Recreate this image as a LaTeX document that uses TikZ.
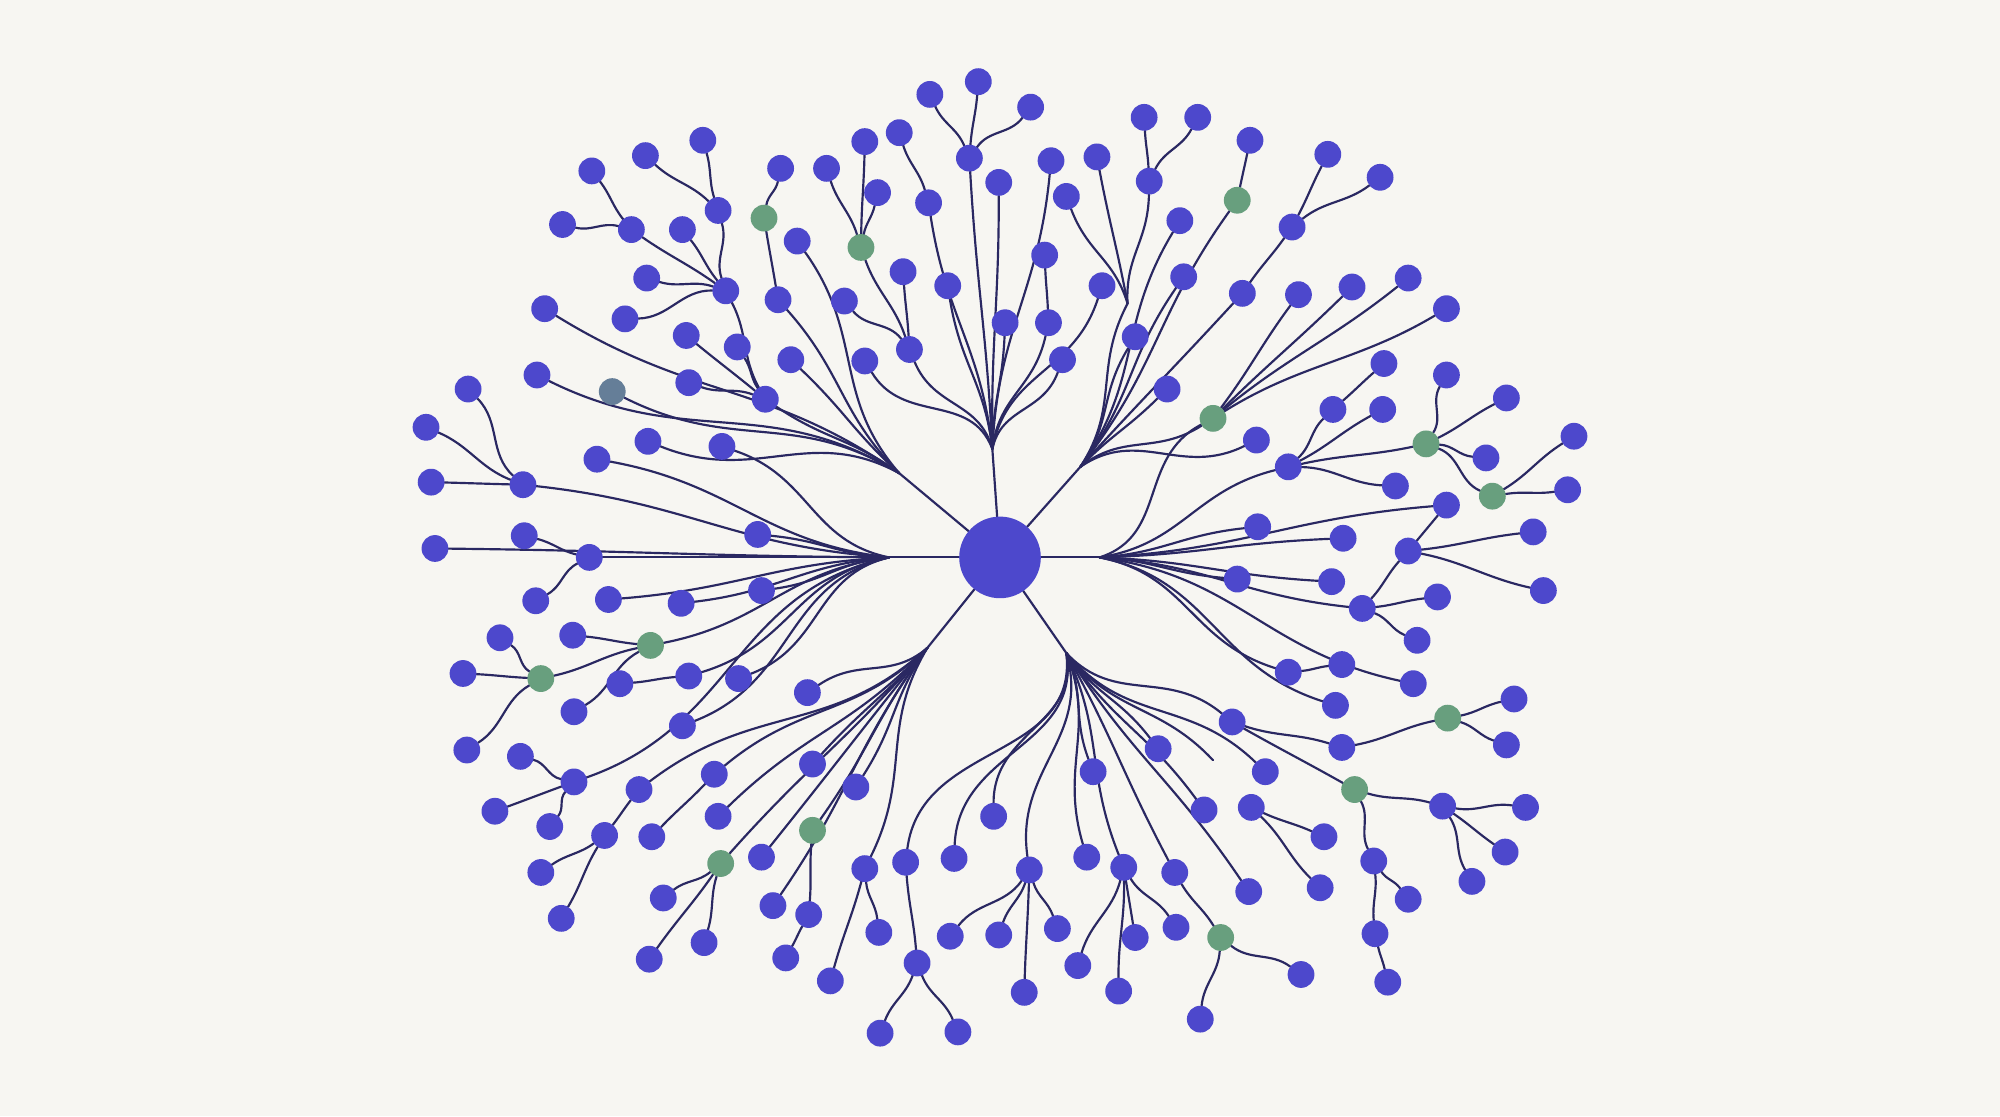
\documentclass[tikz,border=0pt]{standalone}
\usetikzlibrary{calc}
\definecolor{bgc}{HTML}{F7F6F2}
\definecolor{nblue}{HTML}{4D48CC}
\definecolor{ngreen}{HTML}{689F7E}
\definecolor{ngray}{HTML}{657E98}
\definecolor{edgec}{HTML}{2A2862}
\pgfdeclarelayer{back}
\pgfdeclarelayer{links}
\pgfsetlayers{back,links,main}
\tikzset{
  edge/.style={draw=edgec, line width=1.7pt, line cap=round},
  bn/.style={circle, fill=nblue, minimum size=21pt, inner sep=0pt, outer sep=0pt},
  gn/.style={bn, fill=ngreen},
  yn/.style={bn, fill=ngray},
  centre/.style={circle, fill=nblue, minimum size=64pt, inner sep=0pt, outer sep=0pt},
}
\makeatletter
\newcommand\FE[6]{%
  \pgfpointdiff{\pgfpointanchor{#1}{center}}{\pgfpointanchor{#2}{center}}%
  \edef\fex{\the\pgf@x}\edef\fey{\the\pgf@y}%
  \pgfmathsetmacro\fela{atan2(\fey,\fex)}%
  \pgfmathsetmacro\fedd{mod(\fela-(#3)+900,360)-180}%
  \pgfmathsetmacro\feo{(#3)+(#4)*(\fedd)}%
  \pgfmathsetmacro\fei{(#3)+(#5)*(\fedd)+180}%
  \draw[edge] (#1) to[out=\feo,in=\fei,looseness=#6] (#2);}
\makeatother
\newcommand\HE[3]{\FE{#1}{#2}{#3}{0.35}{0.55}{1.1}}
\newcommand\SE[3]{\FE{#1}{#2}{#3}{0.7}{0.75}{1}}
\begin{document}
\begin{tikzpicture}[x=1pt,y=-1pt]
\begin{pgfonlayer}{back}
\fill[bgc] (0,0) rectangle (1568,875);
\end{pgfonlayer}
\useasboundingbox (0,0) rectangle (1568,875);

% centre and hubs
\node[centre] (c) at (784,437) {};
\coordinate (hU) at (778,352);
\coordinate (hUL) at (705,371);
\coordinate (hUR) at (847,366);
\coordinate (hL) at (697,437);
\coordinate (hR) at (862,437);
\coordinate (hDL) at (727,508);
\coordinate (hDR) at (836,512);
\coordinate (J1) at (884,238);
\coordinate (stub) at (951,596);

% ---- up branch
\node[bn] (u1) at (760,124) {};
\node[bn] (u1a) at (729,74) {};
\node[bn] (u1b) at (767,64) {};
\node[bn] (u1c) at (808,84) {};
\node[bn] (u2) at (728,159) {};
\node[bn] (u2a) at (705,104) {};
\node[bn] (u3) at (783,143) {};
\node[bn] (u4) at (824,126) {};
\node[bn] (u5) at (743,224) {};
\node[bn] (u6) at (788,253) {};
\node[bn] (u7) at (822,253) {};
\node[bn] (u7a) at (819,200) {};
\node[bn] (u8) at (833,282) {};
\node[bn] (u9) at (864,224) {};
\node[bn] (u10) at (678,283) {};
\node[bn] (u11) at (713,274) {};
\node[gn] (g1) at (675,194) {};
\node[bn] (g1a) at (648,132) {};
\node[bn] (g1b) at (678,111) {};
\node[bn] (g1c) at (688,151) {};
\node[bn] (u11a) at (708,213) {};
\node[bn] (u11b) at (662,236) {};

% ---- upper-left branch
\node[bn] (a1) at (600,313) {};
\node[bn] (a1a) at (569,228) {};
\node[bn] (a1a1) at (563,165) {};
\node[bn] (a1a1a) at (551,110) {};
\node[bn] (a1a1b) at (506,122) {};
\node[bn] (a1a2) at (495,180) {};
\node[bn] (a1a2a) at (464,134) {};
\node[bn] (a1a2b) at (441,176) {};
\node[bn] (a1a3) at (535,180) {};
\node[bn] (a1a4) at (507,218) {};
\node[bn] (a1a5) at (490,250) {};
\node[bn] (a1b) at (538,263) {};
\node[bn] (a1c) at (578,272) {};
\node[bn] (a1d) at (540,300) {};
\node[bn] (a2) at (620,282) {};
\node[bn] (a3) at (610,235) {};
\node[gn] (g2) at (599,171) {};
\node[bn] (g2a) at (612,132) {};
\node[bn] (a4) at (625,189) {};
\node[bn] (a5) at (427,242) {};
\node[bn] (a6) at (421,294) {};
\node[yn] (a7) at (480,307) {};
\node[bn] (a8) at (508,346) {};

% ---- left branch
\node[bn] (l1) at (566,350) {};
\node[bn] (l2) at (468,360) {};
\node[bn] (l3) at (410,380) {};
\node[bn] (l3a) at (367,305) {};
\node[bn] (l3b) at (334,335) {};
\node[bn] (l3c) at (338,378) {};
\node[bn] (l4) at (341,430) {};
\node[bn] (l5) at (462,437) {};
\node[bn] (l5a) at (411,420) {};
\node[bn] (l5b) at (420,471) {};
\node[bn] (l6) at (477,470) {};
\node[bn] (l7) at (594,419) {};
\node[bn] (l8) at (597,463) {};
\node[bn] (l9) at (534,473) {};
\node[gn] (g3) at (510,506) {};
\node[bn] (g3a) at (449,498) {};
\node[gn] (g4) at (424,532) {};
\node[bn] (g4a) at (392,500) {};
\node[bn] (g4b) at (363,528) {};
\node[bn] (g4c) at (366,588) {};
\node[bn] (g3b) at (450,558) {};
\node[bn] (l10) at (540,530) {};
\node[bn] (l10a) at (486,536) {};
\node[bn] (l11) at (579,532) {};
\node[bn] (l12) at (535,569) {};
\node[bn] (l13) at (450,613) {};
\node[bn] (l13a) at (408,593) {};
\node[bn] (l13b) at (388,636) {};
\node[bn] (l13c) at (431,648) {};

% ---- lower-left branch
\node[bn] (d1) at (633,543) {};
\node[bn] (d2) at (501,619) {};
\node[bn] (d2a) at (474,655) {};
\node[bn] (d2a1) at (424,684) {};
\node[bn] (d2a2) at (440,720) {};
\node[bn] (d3) at (560,607) {};
\node[bn] (d3a) at (511,656) {};
\node[bn] (d4) at (563,640) {};
\node[bn] (d5) at (637,599) {};
\node[bn] (d6) at (671,617) {};
\node[gn] (g5) at (637,651) {};
\node[bn] (g5a) at (634,717) {};
\node[bn] (g5a1) at (616,751) {};
\node[gn] (g6) at (565,677) {};
\node[bn] (g6a) at (520,704) {};
\node[bn] (g6b) at (509,752) {};
\node[bn] (g6c) at (552,739) {};
\node[bn] (d7) at (597,672) {};
\node[bn] (d8) at (606,710) {};
\node[bn] (d9) at (678,681) {};
\node[bn] (d9a) at (689,731) {};
\node[bn] (d9b) at (651,769) {};

% ---- lower-right branch
\node[bn] (e1) at (710,676) {};
\node[bn] (e1a) at (719,755) {};
\node[bn] (e1a1) at (690,810) {};
\node[bn] (e1a2) at (751,809) {};
\node[bn] (e2) at (748,673) {};
\node[bn] (e3) at (779,640) {};
\node[bn] (e4) at (807,682) {};
\node[bn] (e4a) at (745,734) {};
\node[bn] (e4b) at (783,733) {};
\node[bn] (e4c) at (829,728) {};
\node[bn] (e4d) at (803,778) {};
\node[bn] (e5) at (852,672) {};
\node[bn] (e6) at (881,680) {};
\node[bn] (e6a) at (845,757) {};
\node[bn] (e6b) at (890,735) {};
\node[bn] (e6c) at (877,777) {};
\node[bn] (e6d) at (922,727) {};
\node[bn] (e7) at (857,605) {};
\node[bn] (e8) at (908,587) {};
\node[bn] (e9) at (921,684) {};
\node[gn] (g7) at (957,735) {};
\node[bn] (g7a) at (1020,764) {};
\node[bn] (g7b) at (941,799) {};
\node[bn] (e10) at (944,635) {};
\node[bn] (e11) at (966,566) {};
\node[bn] (e11a) at (1052,586) {};
\node[gn] (g8) at (1135,563) {};
\node[bn] (g8a) at (1187,548) {};
\node[bn] (g8b) at (1181,584) {};
\node[gn] (g9) at (1062,619) {};
\node[bn] (e11b) at (1131,632) {};
\node[bn] (e11b1) at (1196,633) {};
\node[bn] (e11b2) at (1180,668) {};
\node[bn] (e11b3) at (1154,691) {};
\node[bn] (e11c) at (1077,675) {};
\node[bn] (e11c1) at (1104,705) {};
\node[bn] (e11c2) at (1078,732) {};
\node[bn] (e11c2a) at (1088,770) {};
\node[bn] (e12) at (992,605) {};
\node[bn] (e13) at (979,699) {};
\node[bn] (e14) at (981,633) {};
\node[bn] (e14a) at (1038,656) {};
\node[bn] (e14b) at (1035,696) {};

% ---- right branch
\node[bn] (r1) at (970,454) {};
\node[bn] (r2) at (986,413) {};
\node[bn] (r3) at (1010,366) {};
\node[bn] (r3a) at (1045,321) {};
\node[bn] (r3a1) at (1085,285) {};
\node[bn] (r3b) at (1084,321) {};
\node[gn] (g10) at (1118,348) {};
\node[bn] (g10a) at (1134,294) {};
\node[bn] (g10b) at (1181,312) {};
\node[bn] (g10c) at (1165,359) {};
\node[gn] (g11) at (1170,389) {};
\node[bn] (g11a) at (1234,342) {};
\node[bn] (g11b) at (1229,384) {};
\node[bn] (r3c) at (1094,381) {};
\node[bn] (r4) at (1053,422) {};
\node[bn] (r5) at (1134,396) {};
\node[bn] (r5a) at (1104,432) {};
\node[bn] (r5a1) at (1202,417) {};
\node[bn] (r5a2) at (1210,463) {};
\node[bn] (r6) at (1044,456) {};
\node[bn] (r7) at (1068,477) {};
\node[bn] (r7a) at (1127,468) {};
\node[bn] (r7b) at (1111,502) {};
\node[bn] (r8) at (1010,527) {};
\node[bn] (r8a) at (1052,521) {};
\node[bn] (r9) at (1047,553) {};
\node[bn] (r10) at (1108,536) {};

% ---- upper-right branch
\node[bn] (ur1) at (836,154) {};
\node[bn] (ur2) at (860,123) {};
\node[bn] (ur3) at (901,142) {};
\node[bn] (ur3a) at (897,92) {};
\node[bn] (ur3b) at (939,92) {};
\node[bn] (ur4) at (925,173) {};
\node[bn] (ur5) at (928,217) {};
\node[bn] (ur6) at (974,230) {};
\node[bn] (ur6a) at (1013,178) {};
\node[bn] (ur6a1) at (1041,121) {};
\node[bn] (ur6a2) at (1082,139) {};
\node[gn] (g12) at (970,157) {};
\node[bn] (g12a) at (980,110) {};
\node[bn] (ur7) at (890,264) {};
\node[bn] (ur8) at (915,305) {};
\node[gn] (g13) at (951,328) {};
\node[bn] (g13a) at (1018,231) {};
\node[bn] (g13b) at (1060,225) {};
\node[bn] (g13c) at (1104,218) {};
\node[bn] (g13d) at (1134,242) {};
\node[bn] (ur9) at (985,345) {};

\begin{pgfonlayer}{links}
% trunk lines
\foreach \h in {hU,hUL,hUR,hL,hR,hDL,hDR} \draw[edge] (c) -- (\h);

% up
\foreach \n in {u1,u2,u3,u4,u5,u6,u7,u8,u9,u10,u11} {\HE{hU}{\n}{92}}
\foreach \n in {u1a,u1b,u1c} {\SE{u1}{\n}{92}}
\SE{u2}{u2a}{92}
\SE{u7}{u7a}{92}
\foreach \n in {g1,u11a,u11b} {\SE{u11}{\n}{92}}
\foreach \n in {g1a,g1b,g1c} {\SE{g1}{\n}{92}}

% upper-left
\foreach \n in {a1,a2,a3,a4,a5,a6,a7,a8} {\HE{hUL}{\n}{140}}
\foreach \n in {a1a,a1b,a1c,a1d} {\SE{a1}{\n}{140}}
\foreach \n in {a1a1,a1a2,a1a3,a1a4,a1a5} {\SE{a1a}{\n}{140}}
\foreach \n in {a1a1a,a1a1b} {\SE{a1a1}{\n}{120}}
\foreach \n in {a1a2a,a1a2b} {\SE{a1a2}{\n}{140}}
\SE{a3}{g2}{100}
\SE{g2}{g2a}{100}

% left
\foreach \n in {l1,l2,l3,l4,l5,l6,l7,l8,l9,g3,l10,l11,l12,l13} {\HE{hL}{\n}{180}}
\foreach \n in {l3a,l3b,l3c} {\SE{l3}{\n}{180}}
\foreach \n in {l5a,l5b} {\SE{l5}{\n}{180}}
\foreach \n in {g3a,g4,g3b} {\SE{g3}{\n}{180}}
\foreach \n in {g4a,g4b,g4c} {\SE{g4}{\n}{180}}
\SE{l10}{l10a}{180}
\foreach \n in {l13a,l13b,l13c} {\SE{l13}{\n}{200}}

% lower-left
\foreach \n in {d1,d2,d3,d4,d5,d6,g5,g6,d7,d8,d9} {\HE{hDL}{\n}{231}}
\SE{d2}{d2a}{231}
\foreach \n in {d2a1,d2a2} {\SE{d2a}{\n}{231}}
\SE{d3}{d3a}{231}
\SE{g5}{g5a}{260}
\SE{g5a}{g5a1}{240}
\foreach \n in {g6a,g6b,g6c} {\SE{g6}{\n}{240}}
\foreach \n in {d9a,d9b} {\SE{d9}{\n}{260}}

% lower-right
\foreach \n in {e1,e2,e3,e4,e5,e6,e7,e8,e9,e10,e11,e12,e13,stub} {\HE{hDR}{\n}{300}}
\SE{e1}{e1a}{270}
\foreach \n in {e1a1,e1a2} {\SE{e1a}{\n}{270}}
\foreach \n in {e4a,e4b,e4c,e4d} {\SE{e4}{\n}{270}}
\foreach \n in {e6a,e6b,e6c,e6d} {\SE{e6}{\n}{280}}
\SE{e9}{g7}{290}
\foreach \n in {g7a,g7b} {\SE{g7}{\n}{290}}
\foreach \n in {e11a,g9} {\SE{e11}{\n}{330}}
\SE{e11a}{g8}{0}
\foreach \n in {g8a,g8b} {\SE{g8}{\n}{0}}
\foreach \n in {e11b,e11c} {\SE{g9}{\n}{330}}
\foreach \n in {e11b1,e11b2,e11b3} {\SE{e11b}{\n}{330}}
\foreach \n in {e11c1,e11c2} {\SE{e11c}{\n}{290}}
\SE{e11c2}{e11c2a}{280}
\foreach \n in {e14a,e14b} {\SE{e14}{\n}{330}}

% right
\foreach \n in {r1,r2,r3,r4,r5,r6,r7,r8,r9,r10,g13} {\HE{hR}{\n}{0}}
\foreach \n in {r3a,r3b,g10,r3c} {\SE{r3}{\n}{20}}
\SE{r3a}{r3a1}{40}
\foreach \n in {g10a,g10b,g10c,g11} {\SE{g10}{\n}{20}}
\foreach \n in {g11a,g11b} {\SE{g11}{\n}{20}}
\draw[edge] (r5) -- (r5a);
\foreach \n in {r5a1,r5a2} {\SE{r5a}{\n}{0}}
\SE{r7}{r5a}{40}
\foreach \n in {r7a,r7b} {\SE{r7}{\n}{0}}
\SE{r8}{r8a}{0}

% upper-right
\foreach \n in {J1,ur4,ur5,ur6,g12,ur7,ur8,g13,ur9} {\HE{hUR}{\n}{48}}
\foreach \n in {ur1,ur2,ur3} {\HE{J1}{\n}{100}}
\foreach \n in {ur3a,ur3b} {\SE{ur3}{\n}{90}}
\SE{ur6}{ur6a}{60}
\foreach \n in {ur6a1,ur6a2} {\SE{ur6a}{\n}{60}}
\SE{g12}{g12a}{80}
\foreach \n in {g13a,g13b,g13c,g13d} {\SE{g13}{\n}{48}}
\end{pgfonlayer}
\end{tikzpicture}
\end{document}
